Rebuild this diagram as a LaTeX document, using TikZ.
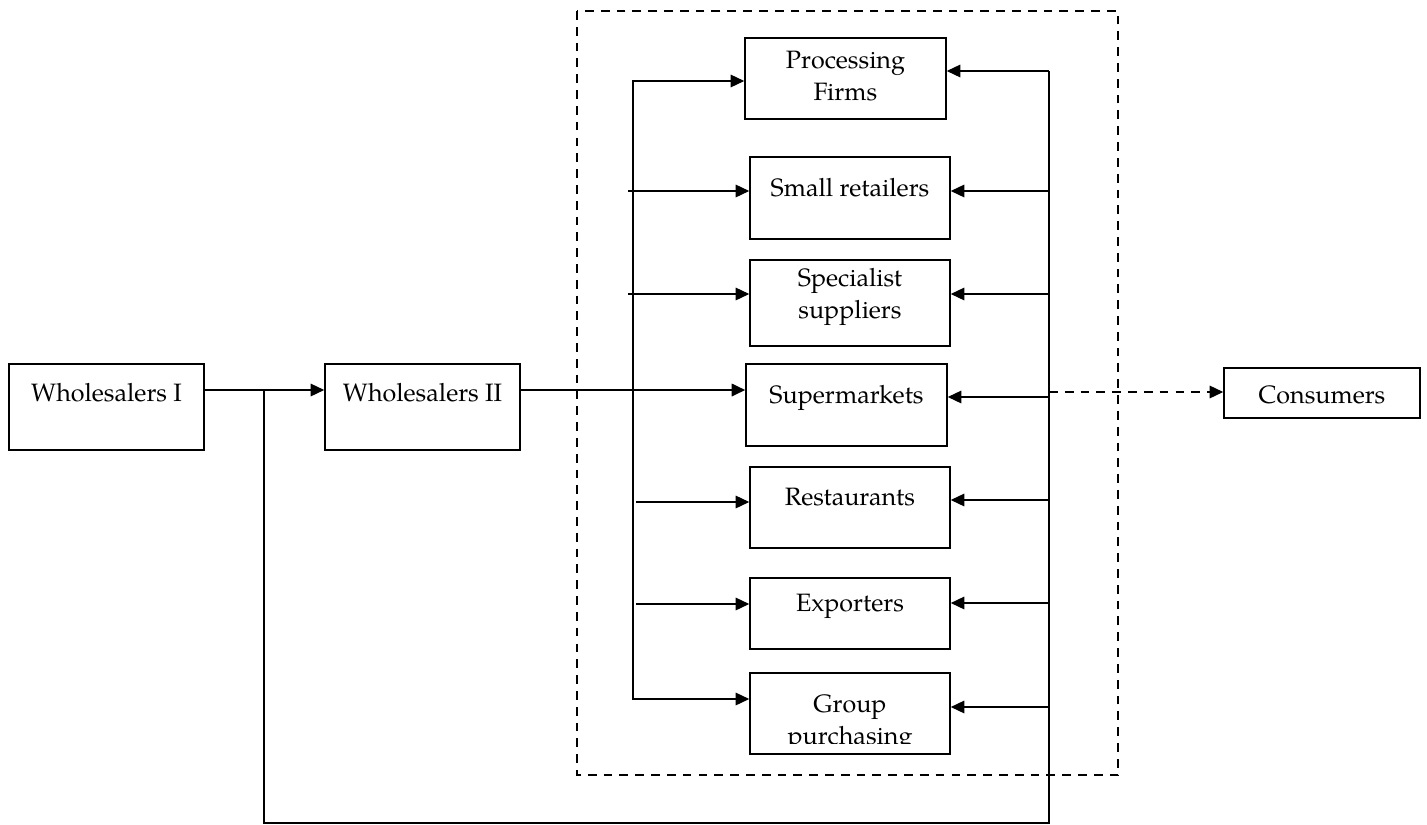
\documentclass[tikz,border=0pt]{standalone}
\usepackage{fontspec}
\setmainfont{texgyrepagella-regular.otf}
\usetikzlibrary{arrows.meta,calc}
\begin{document}
\begin{tikzpicture}[x=0.02cm,y=-0.02cm,
  box/.style={draw,line width=0.9pt,rectangle,inner sep=0pt},
  lab/.style={font=\fontsize{14.3}{18}\selectfont,align=center,inner sep=0pt},
  conn/.style={line width=0.8pt},
  arr/.style={conn,-{Triangle[length=0.27cm,width=0.25cm]}},
  frameline/.style={dashed,dash pattern=on 5pt off 4pt,line width=0.8pt}]
\useasboundingbox (0,0) rectangle (1427,825);
% group frame
\draw[frameline] (577,11) rectangle (1118,775);
% boxes
\node[box,minimum width=3.9cm,minimum height=1.72cm] (w1) at (106.5,407) {};
\node[lab] at (106.5,393) {Wholesalers I};
\node[box,minimum width=3.9cm,minimum height=1.72cm] (w2) at (422.5,407) {};
\node[lab] at (422.5,393) {Wholesalers II};
\node[box,minimum width=4.02cm,minimum height=1.62cm] (pf) at (845.5,78.5) {};
\node[lab] at (845.5,76) {Processing\\Firms};
\node[box,minimum width=4cm,minimum height=1.64cm] (sr) at (850,198) {};
\node[lab] at (850,188) {Small retailers};
\node[box,minimum width=4cm,minimum height=1.72cm] (ss) at (850,303) {};
\node[lab] at (850,297) {Specialist\\suppliers};
\node[box,minimum width=4.02cm,minimum height=1.64cm] (sm) at (846.5,405) {};
\node[lab] at (846.5,398) {Supermarkets};
\node[box,minimum width=4cm,minimum height=1.62cm] (re) at (850,507.5) {};
\node[lab] at (850,497) {Restaurants};
\node[box,minimum width=4cm,minimum height=1.42cm] (ex) at (850,613.5) {};
\node[lab] at (850,606) {Exporters};
\node[box,minimum width=4cm,minimum height=1.62cm] (gp) at (850,713.5) {};
\begin{scope}
\clip (750,673) rectangle (950,743);
\node[lab] at (850,723) {Group\\purchasing};
\end{scope}
\node[box,minimum width=3.92cm,minimum height=1.0cm] (co) at (1322,393) {};
\node[lab] at (1322,395) {Consumers};
% helper coordinates
\coordinate (jl) at (264,390);
\coordinate (bl) at (264,823);
\coordinate (br) at (1049,823);
\coordinate (rt) at (1049,71);
\coordinate (lt) at (633,81);
\coordinate (lb) at (633,699);
% main flow
\draw[arr] (w1.east |- jl) -- (w2.west |- jl);
\draw[conn] (jl) -- (bl) -- (br) -- (rt);
\draw[arr] (rt) -- (pf.east |- rt);
\draw[arr,line width=1pt] (w2.east |- jl) -- (sm.west |- jl);
\draw[conn,{Triangle[length=0.27cm,width=0.25cm]}-{Triangle[length=0.27cm,width=0.25cm]}] (pf.west |- lt) -- (lt) -- (lb) -- (gp.west |- lb);
% left stubs
\coordinate (s1) at (628,191);
\coordinate (s2) at (628,294);
\coordinate (s3) at (636,502);
\coordinate (s4) at (636,604);
\draw[arr] (s1) -- (sr.west |- s1);
\draw[arr] (s2) -- (ss.west |- s2);
\draw[arr] (s3) -- (re.west |- s3);
\draw[arr] (s4) -- (ex.west |- s4);
% right feeders
\coordinate (r1) at (1049,191);
\coordinate (r2) at (1049,294);
\coordinate (r3) at (1049,397);
\coordinate (r4) at (1049,500);
\coordinate (r5) at (1049,603);
\coordinate (r6) at (1049,707);
\draw[arr] (r1) -- (sr.east |- r1);
\draw[arr] (r2) -- (ss.east |- r2);
\draw[arr] (r3) -- (sm.east |- r3);
\draw[arr] (r4) -- (re.east |- r4);
\draw[arr] (r5) -- (ex.east |- r5);
\draw[arr] (r6) -- (gp.east |- r6);
% consumers
\coordinate (cd) at (1049,392);
\draw[arr,dashed,dash pattern=on 5pt off 4pt] (cd) -- (co.west |- cd);
\end{tikzpicture}
\end{document}
